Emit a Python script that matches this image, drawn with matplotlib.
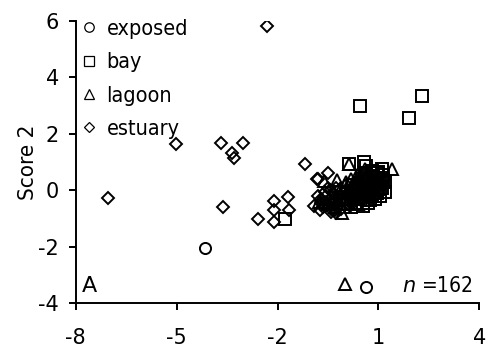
import matplotlib.pyplot as plt
from matplotlib.lines import Line2D

plt.rcParams['axes.unicode_minus'] = False

# group scores (Score 1, Score 2)
exposed_x = [-4.15, 0.63, 0.5, 0.6, 0.7, 0.8, 0.4, 0.55, 0.9, 0.65, 0.3, 0.75, 0.45, 0.85,
             0.35, 0.95, 0.6, 0.2, 0.7, 0.5, 1.0, 0.55, 0.75, 0.85, 0.4, 0.65, 0.95, 0.3,
             0.15, 0.25, 0.45, 0.6, 0.8, 0.9, 0.7, 0.35]
exposed_y = [-2.04, -3.43, 0.1, 0.2, 0.0, 0.3, -0.1, -0.2, 0.15, 0.35, 0.0, -0.1, 0.25, 0.05,
             -0.3, 0.4, -0.05, -0.2, 0.45, -0.35, 0.2, 0.05, 0.25, -0.15, 0.15, 0.1, 0.3, -0.1,
             -0.35, -0.15, -0.25, 0.4, 0.55, 0.5, 0.15, 0.3]

bay_x = [0.45, 2.3, 1.9, 0.14, 0.58, 0.64, -1.79, 1.15, 1.2, 1.1, 1.2, 1.05, 0.9, 0.95, 0.8,
         0.7, 0.6, 1.0, 1.1, 0.85, 0.55, 0.75, 0.65, 0.4, 0.3, 0.2, 0.0, 0.1, 0.95, 1.15,
         0.25, 0.5, 0.8, 1.05, 0.9, 0.7, 0.6, 1.0, 0.45, 0.35, 0.85, 1.1, 0.75, 0.95, 0.5,
         0.65, 1.0, 0.8, 0.55, 0.4]
bay_y = [3.0, 3.35, 2.55, 0.93, 1.01, 0.86, -1.02, 0.55, 0.3, 0.1, -0.05, -0.2, -0.3, 0.6, 0.7,
         -0.45, 0.6, 0.45, 0.75, 0.5, 0.4, 0.15, -0.25, 0.05, -0.45, -0.6, -0.5, -0.3, -0.1, 0.35,
         0.2, 0.5, -0.2, 0.25, 0.2, 0.3, 0.0, 0.05, -0.15, 0.1, 0.35, 0.45, -0.35, 0.0, -0.05,
         0.15, 0.65, 0.1, -0.55, -0.3]

lagoon_x = [1.4, 0.14, -0.63, -0.23, -0.08, -0.78, 0.0, -0.4, -0.1, 0.2, -0.3, 0.1, 0.35, 0.0,
            -0.2, 0.4, 0.6, -0.5, 0.3, 0.5, 0.15, -0.05, 0.25, 0.7, 0.45, 0.05, 0.55, 0.85]
lagoon_y = [0.74, 0.93, 0.34, 0.36, -0.8, -0.41, -3.3, -0.2, 0.1, 0.4, -0.6, -0.1, 0.55, 0.2,
            -0.35, -0.5, 0.75, -0.5, 0.3, -0.15, 0.05, -0.3, -0.05, 0.5, 0.2, 0.3, 0.25, 0.05]

estuary_x = [-2.3, -5.02, -3.68, -3.03, -3.36, -3.29, -7.03, -3.61, -2.57, -1.18, -0.81, -2.09,
             -1.7, -2.09, -1.67, -2.09, -0.83, -0.51, -0.75, -0.6, -0.7, -0.45, -0.3, -0.55,
             -0.35, -0.2, -0.1, 0.05, -0.65, -0.4, -0.15, 0.0, -0.5, -0.25, -0.9, -0.8,
             -0.6, -0.3, -0.45, -0.15, 0.1, -0.7, -0.55, -0.35, -0.2, 0.15, -0.05, 0.2,
             -0.4, -0.25]
estuary_y = [5.8, 1.64, 1.68, 1.68, 1.31, 1.16, -0.27, -0.6, -1.03, 0.93, 0.39, -0.38,
             -0.23, -0.7, -0.7, -1.11, 0.39, 0.6, -0.7, -0.55, -0.3, -0.45, -0.7, -0.2,
             -0.1, -0.55, -0.65, -0.4, -0.6, -0.75, -0.25, -0.05, 0.1, 0.1, -0.55, -0.2,
             -0.05, -0.35, 0.0, 0.05, -0.2, -0.45, -0.4, -0.5, -0.45, -0.55, -0.3, -0.4,
             -0.65, -0.8]

groups = ['exposed', 'bay', 'lagoon', 'estuary']
markers = {'exposed': ('o', 8), 'bay': ('s', 8), 'lagoon': ('^', 8.5), 'estuary': ('D', 6.3)}
data = {'exposed': (exposed_x, exposed_y), 'bay': (bay_x, bay_y),
        'lagoon': (lagoon_x, lagoon_y), 'estuary': (estuary_x, estuary_y)}
n_label = 162

fig = plt.figure(figsize=(4.89, 3.52), dpi=100)
ax = fig.add_axes([0.155, 0.138, 0.825, 0.803])

for g in groups:
    m, ms = markers[g]
    x, y = data[g]
    ax.plot(x, y, linestyle='none', marker=m, markersize=ms, markerfacecolor='none',
            markeredgecolor='black', markeredgewidth=1.4)

ax.set_xlim(-8, 4)
ax.set_ylim(-4, 6)
ax.set_xticks([-8, -5, -2, 1, 4])
ax.set_yticks([-4, -2, 0, 2, 4, 6])
ax.tick_params(direction='out', length=5, width=1.4, labelsize=15)
ax.tick_params(axis='x', pad=13)
ax.tick_params(axis='y', pad=7)
for s in ['top', 'right']:
    ax.spines[s].set_visible(False)
for s in ['left', 'bottom']:
    ax.spines[s].set_linewidth(1.4)
ax.set_ylabel('Score 2', fontsize=16, labelpad=0, fontstretch='condensed')

handles = [Line2D([], [], linestyle='none', marker=markers[g][0], markersize=markers[g][1] * 0.85,
                  markerfacecolor='none', markeredgecolor='black', markeredgewidth=0.9)
           for g in groups]
ax.legend(handles, groups, loc='upper left', bbox_to_anchor=(-0.025, 1.06), frameon=False,
          prop={'size': 15.5, 'stretch': 'condensed'}, handlelength=0.8, handletextpad=0.4,
          labelspacing=0.62, borderpad=0.2)

ax.text(0.015, 0.04, 'A', transform=ax.transAxes, fontsize=16)
ax.text(0.985, 0.04, '$n$ =%d' % n_label, transform=ax.transAxes, fontsize=15, ha='right',
        fontstretch='condensed')

fig.savefig('out.png', dpi=100)
